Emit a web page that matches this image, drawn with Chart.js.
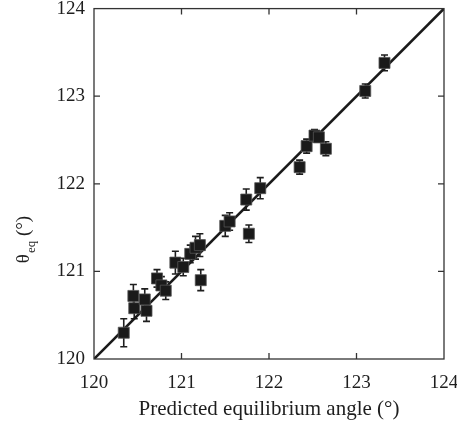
<!DOCTYPE html>
<html>
<head>
<meta charset="utf-8">
<script src="https://cdn.jsdelivr.net/npm/chart.js@4/dist/chart.umd.min.js"></script>
<style>
  html, body { margin: 0; padding: 0; background: #fff; }
  canvas { display: block; }
</style>
</head>
<body>
<canvas id="angles" width="457" height="425"></canvas>
<script>
// predicted vs measured equilibrium angle (deg)
var predicted = [120.34, 120.45, 120.46, 120.58, 120.60, 120.72, 120.77, 120.82,
    120.93, 121.02, 121.10, 121.16, 121.21, 121.22, 121.50, 121.55, 121.77,
    121.74, 121.90, 122.35, 122.43, 122.52, 122.57, 122.65, 123.10, 123.32];
var measured = [120.30, 120.72, 120.58, 120.68, 120.55, 120.92, 120.84, 120.78,
    121.10, 121.05, 121.20, 121.27, 121.30, 120.90, 121.52, 121.57, 121.43,
    121.82, 121.95, 122.19, 122.43, 122.55, 122.53, 122.40, 123.06, 123.38];
var errors = [0.16, 0.13, 0.12, 0.12, 0.12, 0.10, 0.10, 0.10,
    0.13, 0.10, 0.10, 0.13, 0.13, 0.12, 0.12, 0.10, 0.10,
    0.12, 0.12, 0.08, 0.08, 0.07, 0.05, 0.08, 0.08, 0.09];
var tickValues = [120, 121, 122, 123, 124];
var lineEnds = [120, 124];

var points = predicted.map(function (x, i) {
    return { x: x, y: measured[i], err: errors[i] };
});

var serif = "'Liberation Serif', 'DejaVu Serif', serif";
var ink = "#1e1e1e";

// vertical error bars with caps
var errorBars = {
    id: "errorBars",
    beforeDatasetsDraw: function (chart) {
        var ctx = chart.ctx;
        var xs = chart.scales.x, ys = chart.scales.y;
        ctx.save();
        ctx.strokeStyle = ink;
        ctx.lineWidth = 1.6;
        points.forEach(function (p) {
            var px = xs.getPixelForValue(p.x);
            var top = ys.getPixelForValue(p.y + p.err);
            var bot = ys.getPixelForValue(p.y - p.err);
            ctx.beginPath();
            ctx.moveTo(px, top); ctx.lineTo(px, bot);
            ctx.moveTo(px - 3.5, top); ctx.lineTo(px + 3.5, top);
            ctx.moveTo(px - 3.5, bot); ctx.lineTo(px + 3.5, bot);
            ctx.stroke();
        });
        ctx.restore();
    }
};

// box frame, inward ticks and the y title with subscript
var frame = {
    id: "frame",
    afterDraw: function (chart) {
        var ctx = chart.ctx;
        var a = chart.chartArea;
        var xs = chart.scales.x, ys = chart.scales.y;
        ctx.save();
        ctx.strokeStyle = "#333";
        ctx.lineWidth = 1.3;
        ctx.strokeRect(a.left, a.top, a.right - a.left, a.bottom - a.top);
        ctx.beginPath();
        tickValues.slice(1, -1).forEach(function (v) {
            var px = xs.getPixelForValue(v);
            var py = ys.getPixelForValue(v);
            ctx.moveTo(px, a.bottom); ctx.lineTo(px, a.bottom - 6);
            ctx.moveTo(px, a.top); ctx.lineTo(px, a.top + 6);
            ctx.moveTo(a.left, py); ctx.lineTo(a.left + 6, py);
            ctx.moveTo(a.right, py); ctx.lineTo(a.right - 6, py);
        });
        ctx.stroke();

        ctx.translate(24, 240);
        ctx.rotate(-Math.PI / 2);
        ctx.fillStyle = ink;
        ctx.textBaseline = "middle";
        ctx.textAlign = "left";
        ctx.font = "19px " + serif;
        var w1 = ctx.measureText("θ").width;
        ctx.font = "13px " + serif;
        var w2 = ctx.measureText("eq").width;
        ctx.font = "19px " + serif;
        var w3 = ctx.measureText(" (°)").width;
        var x0 = -(w1 + w2 + w3) / 2;
        ctx.fillText("θ", x0, 0);
        ctx.font = "13px " + serif;
        ctx.fillText("eq", x0 + w1 + 1, 8);
        ctx.font = "19px " + serif;
        ctx.fillText(" (°)", x0 + w1 + w2 + 1, 0);
        ctx.restore();
    }
};

var ctx = document.getElementById("angles").getContext("2d");
var anglesChart = new Chart(ctx, {
    type: "scatter",
    data: {
        datasets: [{
            data: points,
            pointStyle: "rect",
            pointRadius: 7.8,
            pointHoverRadius: 7.8,
            backgroundColor: "#1a1a1a",
            borderColor: "#555",
            borderWidth: 0.8
        }, {
            type: "line",
            data: lineEnds.map(function (v) { return { x: v, y: v }; }),
            borderColor: "#1a1a1a",
            borderWidth: 2.6,
            pointRadius: 0,
            fill: false
        }]
    },
    plugins: [errorBars, frame],
    options: {
        responsive: false,
        animation: false,
        layout: { padding: { top: 7, right: 13, left: 0, bottom: 0 } },
        plugins: {
            legend: { display: false },
            tooltip: { enabled: false }
        },
        scales: {
            x: {
                type: "linear",
                min: 120,
                max: 124,
                afterFit: function (s) {
                    s.height = 66;
                    s.paddingLeft = 0;
                    s.paddingRight = 0;
                },
                afterBuildTicks: function (s) {
                    s.ticks = tickValues.map(function (v) { return { value: v }; });
                },
                grid: { display: false, drawTicks: false },
                border: { display: false },
                ticks: {
                    padding: 13,
                    color: ink,
                    font: { family: serif, size: 19 }
                },
                title: {
                    display: true,
                    text: "Predicted equilibrium angle (°)",
                    color: ink,
                    font: { family: serif, size: 21 },
                    padding: { top: 0, bottom: 3 }
                }
            },
            y: {
                type: "linear",
                min: 120,
                max: 124,
                afterFit: function (s) {
                    s.width = 94;
                    s.paddingTop = 0;
                    s.paddingBottom = 0;
                },
                afterBuildTicks: function (s) {
                    s.ticks = tickValues.map(function (v) { return { value: v }; });
                },
                grid: { display: false, drawTicks: false },
                border: { display: false },
                ticks: {
                    padding: 9,
                    color: ink,
                    font: { family: serif, size: 19 }
                }
            }
        }
    }
});
</script>
</body>
</html>
